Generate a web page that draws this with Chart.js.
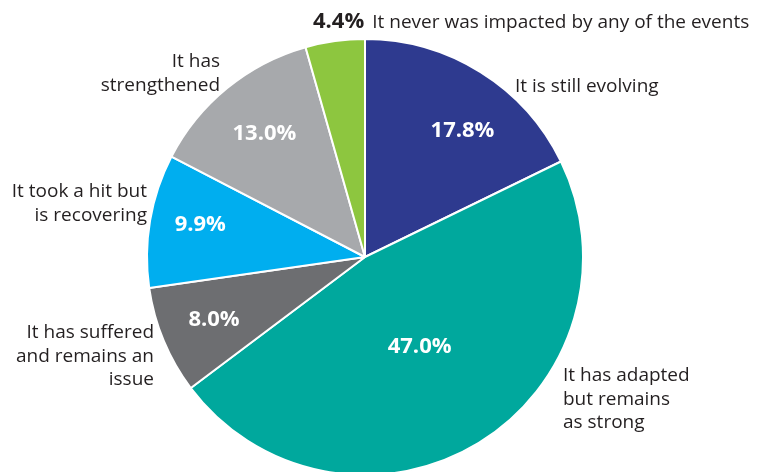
<!DOCTYPE html>
<html lang="en">
<head>
    <meta charset="UTF-8">
    <title>Impact pie</title>
    <style>
        html, body { margin: 0; padding: 0; background: #fff; }
        #wrap { width: 770px; height: 472px; }
    </style>
    <script src="https://cdn.jsdelivr.net/npm/chart.js"></script>
</head>
<body>
    <div id="wrap"><canvas id="pie"></canvas></div>
    <script>
        // Data (clockwise from 12 o'clock)
        const categories = [
            'It is still evolving',
            'It has adapted but remains as strong',
            'It has suffered and remains an issue',
            'It took a hit but is recovering',
            'It has strengthened',
            'It never was impacted by any of the events'
        ];
        const shares = [17.8, 47.0, 8.0, 9.9, 13.0, 4.4];
        const colors = ['#2E3A8F', '#00A89D', '#6D6E71', '#00AEEF', '#A7A9AC', '#8DC63F'];

        // how the outside labels are broken into lines
        const labelLines = [
            ['It is still evolving'],
            ['It has adapted', 'but remains', 'as strong'],
            ['It has suffered', 'and remains an', 'issue'],
            ['It took a hit but', 'is recovering'],
            ['It has', 'strengthened'],
            ['It never was impacted by any of the events']
        ];

        // label placement: outside text offset from pie centre, inner % radius fraction
        const outerPos = [
            { dx: 150, dy: -165, align: 'left' },
            { dx: 198, dy: 124, align: 'left' },
            { dx: -211, dy: 81, align: 'right' },
            { dx: -218, dy: -60, align: 'right' },
            { dx: -145, dy: -190, align: 'right' },
            { dx: -52, dy: -229, align: 'left', pctInline: true }
        ];
        const innerPos = [
            { r: 0.73, turn: 0.016 },
            { r: 0.48, turn: 0 },
            { r: 0.75, turn: 0 },
            { r: 0.77, turn: 0.004 },
            { r: 0.73, turn: 0 },
            null
        ];

        const FONT = '"Open Sans", "Noto Sans", sans-serif';
        const TEXT = '#231F20';
        const LINE_H = 23.5;

        const labelPlugin = {
            id: 'pieLabels',
            afterDraw(chart) {
                const ctx = chart.ctx;
                const arcs = chart.getDatasetMeta(0).data;
                ctx.save();
                arcs.forEach((arc, i) => {
                    const { x, y, startAngle, endAngle, outerRadius } = arc.getProps(['x', 'y', 'startAngle', 'endAngle', 'outerRadius'], true);
                    const pct = shares[i].toFixed(1) + '%';
                    const ip = innerPos[i];
                    if (ip) {
                        const a = (startAngle + endAngle) / 2 + ip.turn * Math.PI * 2;
                        ctx.font = 'bold 22px ' + FONT;
                        ctx.fillStyle = '#fff';
                        ctx.textAlign = 'center';
                        ctx.textBaseline = 'middle';
                        ctx.fillText(pct, x + Math.cos(a) * outerRadius * ip.r, y + Math.sin(a) * outerRadius * ip.r);
                    }
                    const op = outerPos[i];
                    let lx = x + op.dx;
                    const ly = y + op.dy;
                    ctx.textBaseline = 'alphabetic';
                    ctx.fillStyle = TEXT;
                    if (op.pctInline) {
                        ctx.font = 'bold 22px ' + FONT;
                        ctx.textAlign = 'left';
                        ctx.fillText(pct, lx, ly);
                        lx += ctx.measureText(pct).width + 8;
                    }
                    ctx.font = '19px ' + FONT;
                    ctx.textAlign = op.align;
                    labelLines[i].forEach((t, k) => ctx.fillText(t, lx, ly + k * LINE_H));
                });
                ctx.restore();
            }
        };

        new Chart(document.getElementById('pie'), {
            type: 'pie',
            data: {
                labels: categories,
                datasets: [{
                    data: shares,
                    backgroundColor: colors,
                    borderColor: '#fff',
                    borderWidth: 2,
                    radius: 218
                }]
            },
            options: {
                responsive: true,
                maintainAspectRatio: false,
                animation: false,
                layout: { padding: { left: 0, right: 40, top: 42, bottom: 0 } },
                plugins: {
                    legend: { display: false },
                    tooltip: { enabled: false }
                }
            },
            plugins: [labelPlugin]
        });
    </script>
</body>
</html>
